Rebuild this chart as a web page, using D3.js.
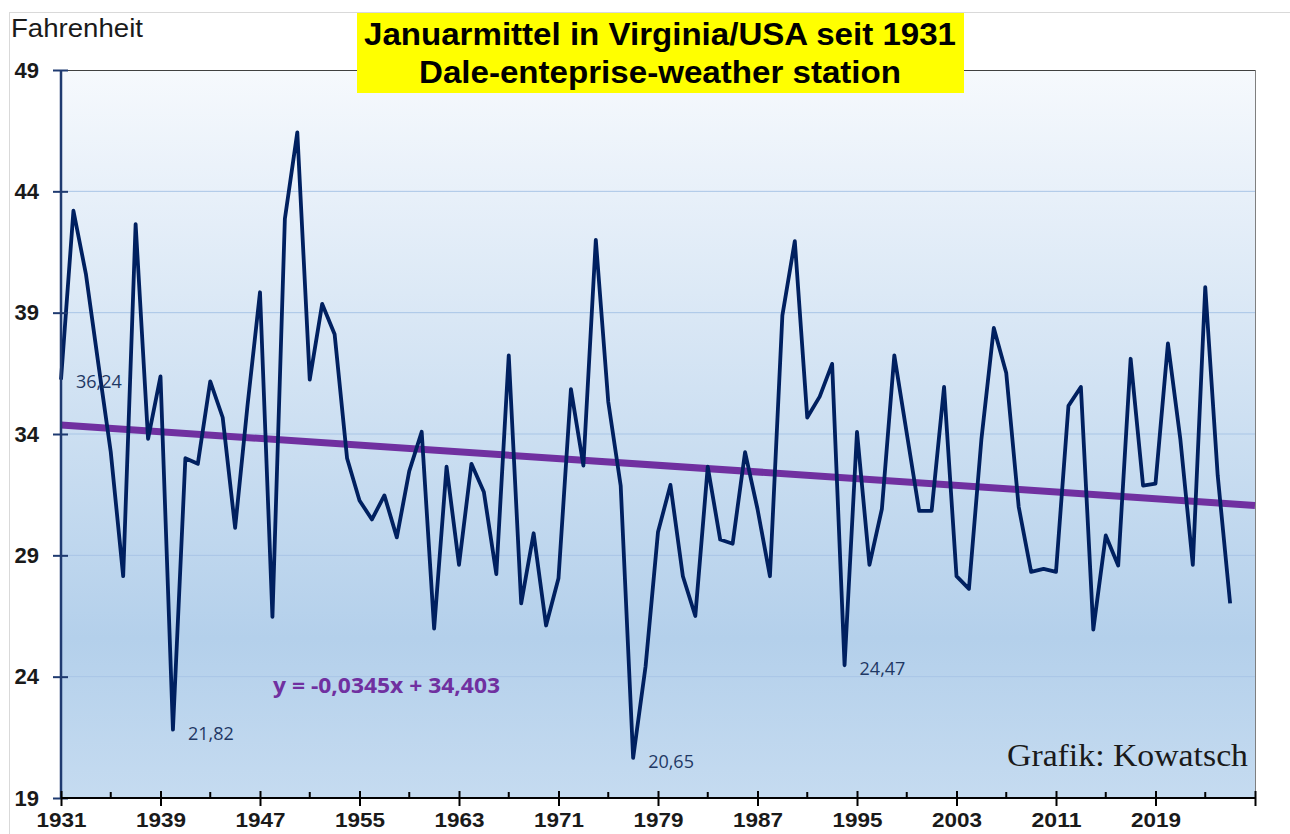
<!DOCTYPE html>
<html><head><meta charset="utf-8">
<script src="https://cdn.jsdelivr.net/npm/d3@7"></script>
<style>body{margin:0;background:#fff}svg{display:block}</style>
</head><body>
<svg id="c" width="1290" height="834"></svg>
<script>
const years = d3.range(1931, 2026);
const values = [
 36.24,43.2,40.6,36.9,33.26,28.14,42.65,33.8,36.37,21.82,
 33.0,32.77,36.17,34.68,30.13,35.2,39.84,26.46,42.87,46.43,
 36.24,39.36,38.11,33.0,31.26,30.48,31.47,29.74,32.47,34.09,
 25.98,32.65,28.61,32.77,31.61,28.23,37.24,27.02,29.91,26.11,
 28.06,35.85,32.7,42.0,35.33,31.87,20.65,24.42,29.96,31.9,
 28.14,26.5,32.65,29.65,29.48,33.25,30.91,28.14,38.89,41.95,
 34.68,35.54,36.89,24.47,34.09,28.61,30.91,37.24,34.03,30.83,
 30.83,35.94,28.14,27.62,33.77,38.37,36.51,31.0,28.32,28.44,
 28.32,35.16,35.94,25.94,29.82,28.58,37.1,31.87,31.96,37.73,
 33.77,28.61,40.05,32.3,27.02];
const yTicks = [19,24,29,34,39,44,49];
const xMajor = [1931,1939,1947,1955,1963,1971,1979,1987,1995,2003,2011,2019,2027];
const xMinor = [1935,1943,1951,1959,1967,1975,1983,1991,1999,2007,2015,2023];
const labelled = [{year:1931,text:"36,24"},{year:1940,text:"21,82"},{year:1977,text:"20,65"},{year:1994,text:"24,47"}];
const trendSlope = -0.0345, trendIntercept = 34.403;
const titleLines = ["Januarmittel in Virginia/USA seit 1931","Dale-enteprise-weather station"];

const svg = d3.select("#c");
const L=61, R=1255, T=70, B=798;
const x = d3.scaleLinear().domain([1931,2027]).range([L,R]);
const y = d3.scaleLinear().domain([19,49]).range([B,T]);

// outer frame
svg.append("rect").attr("x",9.5).attr("y",12.5).attr("width",1290).attr("height",830)
  .attr("fill","#fff").attr("stroke","#d9d9d9");

const defs = svg.append("defs");
const g = defs.append("linearGradient").attr("id","bg").attr("x1",0).attr("y1",0).attr("x2",0).attr("y2",1);
g.append("stop").attr("offset","0%").attr("stop-color","#f6f9fd");
g.append("stop").attr("offset","78%").attr("stop-color","#b4d0eb");
g.append("stop").attr("offset","100%").attr("stop-color","#c5dbf0");
svg.append("rect").attr("x",L).attr("y",T).attr("width",R-L).attr("height",B-T).attr("fill","url(#bg)");

// gridlines
svg.append("g").selectAll("line").data(yTicks.filter(v=>v>19&&v<49)).join("line")
  .attr("x1",L).attr("x2",R).attr("y1",d=>y(d)).attr("y2",d=>y(d))
  .attr("stroke","#a9c5e6").attr("stroke-width",1);
// top & right border
svg.append("line").attr("x1",L).attr("x2",R).attr("y1",T+0.5).attr("y2",T+0.5).attr("stroke","#404040").attr("stroke-width",1);
svg.append("line").attr("x1",R+0.5).attr("x2",R+0.5).attr("y1",T).attr("y2",B).attr("stroke","#7f7f7f").attr("stroke-width",1);

// title
svg.append("rect").attr("x",357).attr("y",13).attr("width",607).attr("height",80).attr("fill","#ffff00");
const titleW = [592, 482];
svg.append("g").selectAll("text").data(titleLines).join("text")
  .attr("x",660).attr("y",(d,i)=>[45,83][i]).attr("text-anchor","middle")
  .attr("font-family","Liberation Sans, Arial, sans-serif").attr("font-weight","bold")
  .attr("font-size",31).attr("fill","#000")
  .attr("textLength",(d,i)=>titleW[i]).attr("lengthAdjust","spacingAndGlyphs").text(d=>d);

svg.append("text").attr("x",11).attr("y",37).attr("font-family","Liberation Sans, Arial, sans-serif")
  .attr("font-size",25).attr("fill","#1a1a1a")
  .attr("textLength",132).attr("lengthAdjust","spacingAndGlyphs").text("Fahrenheit");

// trend
const tr = yr => trendIntercept + trendSlope*(yr-1930);
svg.append("line").attr("x1",x(1931)).attr("x2",x(2027)).attr("y1",y(tr(1931))).attr("y2",y(tr(2027)))
  .attr("stroke","#7030a0").attr("stroke-width",7);

// data line
const line = d3.line().x((d,i)=>x(years[i])).y(d=>y(d)).curve(d3.curveLinear);
svg.append("path").datum(values).attr("d",line).attr("fill","none")
  .attr("stroke","#002060").attr("stroke-width",3.8).attr("stroke-linejoin","round");

// data labels
svg.append("g").selectAll("text").data(labelled).join("text")
  .attr("x",d=>x(d.year)+15)
  .attr("y",d=>y(values[d.year-1931])+(d.year===1931?8:10))
  .attr("font-family","Open Sans, Noto Sans, sans-serif").attr("font-size",18)
  .attr("fill","#1f3864").text(d=>d.text);

// equation
svg.append("text").attr("x",273).attr("y",693).attr("font-family","Open Sans, Noto Sans, sans-serif")
  .attr("font-weight","bold").attr("font-size",21).attr("fill","#7030a0")
  .attr("textLength",227).attr("lengthAdjust","spacingAndGlyphs").text("y = -0,0345x + 34,403");

svg.append("text").attr("x",1248).attr("y",766).attr("text-anchor","end")
  .attr("font-family","Liberation Serif, Times New Roman, serif").attr("font-size",32)
  .attr("fill","#1a1a1a").attr("textLength",241).attr("lengthAdjust","spacingAndGlyphs").text("Grafik: Kowatsch");

// y axis
const ya = svg.append("g").attr("transform",`translate(${L},0)`)
  .call(d3.axisLeft(y).tickValues(yTicks).tickSize(8).tickFormat(d3.format("d")));
ya.select(".domain").remove();
ya.selectAll(".tick line").attr("x1",7).attr("x2",-8).attr("stroke","#1f3a70").attr("stroke-width",2);
ya.selectAll(".tick text").attr("x",-22).attr("font-family","Liberation Sans, Arial, sans-serif")
  .attr("font-weight","bold").attr("font-size",22).attr("fill","#1a1a1a");
svg.append("line").attr("x1",L).attr("x2",L).attr("y1",T).attr("y2",B).attr("stroke","#1f3a70").attr("stroke-width",2.5);

// x axis
const xa = svg.append("g").attr("transform",`translate(0,${B})`)
  .call(d3.axisBottom(x).tickValues(xMajor).tickSize(8).tickFormat(d=>d===2027?"":d3.format("d")(d)));
xa.select(".domain").remove();
xa.selectAll(".tick line").attr("y1",-7).attr("y2",8).attr("stroke","#000").attr("stroke-width",2);
xa.selectAll(".tick text").attr("y",14).attr("font-family","Liberation Sans, Arial, sans-serif")
  .attr("font-weight","bold").attr("font-size",21).attr("fill","#1a1a1a")
  .attr("textLength",50).attr("lengthAdjust","spacingAndGlyphs");
svg.append("g").selectAll("line").data(xMinor).join("line")
  .attr("x1",d=>x(d)).attr("x2",d=>x(d)).attr("y1",B-6).attr("y2",B).attr("stroke","#000").attr("stroke-width",2);
svg.append("line").attr("x1",L).attr("x2",R).attr("y1",B).attr("y2",B).attr("stroke","#000").attr("stroke-width",2);
</script>
</body></html>
